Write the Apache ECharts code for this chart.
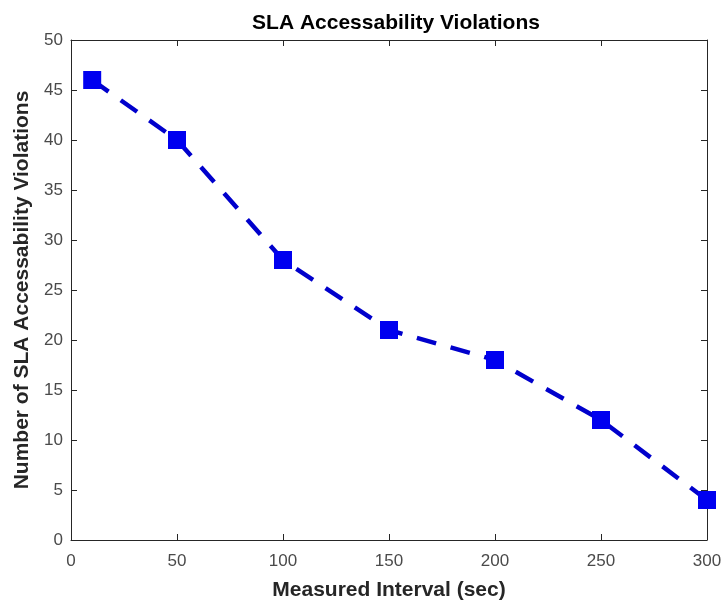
<!DOCTYPE html>
<html>
<head>
<meta charset="utf-8">
<script src="https://cdn.jsdelivr.net/npm/echarts@6/dist/echarts.min.js"></script>
<style>html,body{margin:0;padding:0;background:#fff;}#c{width:725px;height:606px;}</style>
</head>
<body>
<div id="c"></div>
<script>
var intervals = [10, 50, 100, 150, 200, 250, 300];
var violations = [46, 40, 28, 21, 18, 12, 4];
var titleText = 'SLA Accessability Violations';
var xName = 'Measured Interval (sec)';
var yName = 'Number of SLA Accessability Violations';

var chart = echarts.init(document.getElementById('c'));
var axisCol = '#262626';
var ff = 'Liberation Sans, Arial, sans-serif';
var labelStyle = {color: '#4a4a4a', fontSize: 17, fontFamily: ff};
var nameStyle = {color: '#262626', fontSize: 21, fontWeight: 'bold', fontFamily: ff};
function tick() { return {show: true, inside: true, length: 6, lineStyle: {color: axisCol}}; }
function line() { return {show: true, onZero: false, lineStyle: {color: axisCol, width: 1}}; }
chart.setOption({
  animation: false,
  title: {
    text: titleText, left: 391, top: 8, textAlign: 'center',
    textStyle: {color: '#000', fontSize: 21, fontWeight: 'bold', fontFamily: ff}
  },
  grid: {left: 71, right: 18, top: 40, bottom: 66},
  xAxis: [{
    type: 'value', min: 0, max: 300, interval: 50,
    name: xName, nameLocation: 'middle', nameGap: 40, nameTextStyle: nameStyle,
    axisLine: line(), axisTick: tick(),
    axisLabel: Object.assign({margin: 13}, labelStyle),
    splitLine: {show: false}
  }, {
    type: 'value', min: 0, max: 300, interval: 50, position: 'top',
    axisLine: line(), axisTick: tick(),
    axisLabel: {show: false}, splitLine: {show: false}
  }],
  yAxis: [{
    type: 'value', min: 0, max: 50, interval: 5,
    name: yName, nameLocation: 'middle', nameGap: 36, nameTextStyle: nameStyle,
    axisLine: line(), axisTick: tick(),
    axisLabel: Object.assign({margin: 8}, labelStyle),
    splitLine: {show: false}
  }, {
    type: 'value', min: 0, max: 50, interval: 5, position: 'right',
    axisLine: line(), axisTick: tick(),
    axisLabel: {show: false}, splitLine: {show: false}
  }],
  series: [{
    type: 'line',
    data: intervals.map(function (x, i) { return [x, violations[i]]; }),
    symbol: 'rect', symbolSize: 18,
    itemStyle: {color: '#0000F0'},
    lineStyle: {color: '#0000CC', width: 4.5, type: [20, 15]},
    clip: false
  }]
});
</script>
</body>
</html>
